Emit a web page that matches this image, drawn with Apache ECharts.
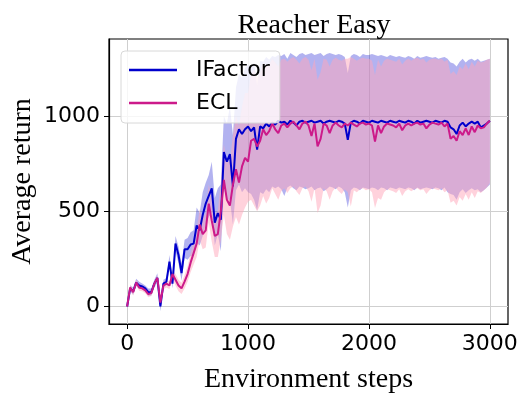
<!DOCTYPE html>
<html lang="en">
<head>
    <meta charset="UTF-8">
    <title>Reacher Easy</title>
    <script src='https://cdn.jsdelivr.net/npm/echarts@6/dist/echarts.min.js'></script>
</head>
<body style="margin: 0; background: #fff">
<div id="chart" style="width: 531px;height: 399px"></div>

<script>
    // environment steps, one sample every 25 steps (0 .. 3000)
    let steps = [];
    for (let s = 0; s <= 3000; s += 25) steps.push(s);

    // IFactor: mean return and shaded band (upper / lower)
    let ifMean = [
        0, 95, 80, 125, 110, 105, 95, 75, 75, 120,
        150, 0, 120, 130, 235, 120, 330, 270, 175, 300,
        300, 325, 330, 425, 400, 480, 540, 580, 620, 440,
        490, 455, 810, 760, 800, 630, 880, 930, 905, 930,
        945, 920, 940, 823, 945, 935, 960, 945, 965, 955,
        975, 965, 970, 955, 975, 965, 950, 970, 975, 965,
        970, 975, 965, 970, 975, 960, 970, 975, 970, 965,
        975, 970, 960, 875, 965, 975, 970, 960, 975, 970,
        965, 975, 970, 965, 975, 970, 965, 975, 970, 965,
        975, 970, 965, 975, 970, 960, 975, 965, 970, 975,
        970, 965, 975, 970, 965, 975, 970, 940, 930, 905,
        950, 965, 945, 960, 970, 960, 970, 940, 950, 960,
        975
    ];
    let ifHi = [
        0, 110, 100, 145, 130, 120, 110, 95, 95, 140,
        175, 20, 140, 150, 270, 150, 370, 315, 225, 350,
        360, 390, 400, 520, 490, 600, 650, 690, 760, 570,
        620, 640, 1000, 960, 1050, 900, 1150, 1220, 1200, 1250,
        1270, 1250, 1280, 1160, 1290, 1285, 1310, 1295, 1315, 1310,
        1320, 1315, 1325, 1300, 1330, 1320, 1310, 1325, 1330, 1320,
        1325, 1330, 1320, 1325, 1330, 1315, 1325, 1330, 1325, 1320,
        1325, 1320, 1310, 1225, 1315, 1325, 1320, 1310, 1325, 1320,
        1320, 1325, 1320, 1315, 1320, 1315, 1310, 1320, 1315, 1310,
        1315, 1310, 1305, 1315, 1310, 1300, 1315, 1305, 1310, 1315,
        1310, 1305, 1310, 1300, 1305, 1310, 1300, 1280, 1275, 1260,
        1285, 1300, 1280, 1295, 1300, 1290, 1300, 1285, 1290, 1295,
        1300
    ];
    let ifLo = [
        0, 80, 62, 108, 92, 90, 80, 55, 58, 100,
        125, -25, 100, 110, 200, 95, 290, 225, 135, 255,
        245, 265, 265, 335, 320, 370, 430, 470, 490, 320,
        380, 290, 620, 560, 560, 430, 610, 640, 600, 620,
        600, 590, 560, 505, 600, 590, 615, 600, 630, 620,
        630, 615, 580, 625, 635, 620, 610, 630, 625, 615,
        620, 630, 610, 620, 625, 605, 615, 630, 625, 615,
        630, 620, 600, 520, 610, 625, 620, 610, 625, 620,
        615, 625, 620, 610, 625, 620, 610, 625, 620, 615,
        625, 620, 615, 625, 620, 610, 625, 615, 620, 625,
        620, 615, 625, 620, 610, 625, 600, 590, 585, 560,
        600, 615, 595, 610, 620, 610, 615, 600, 610, 625,
        640
    ];

    // ECL: mean return and shaded band (upper / lower)
    let eclMean = [
        0, 100, 75, 125, 100, 95, 85, 65, 70, 120,
        150, 20, 110, 120, 110, 170, 140, 110, 95, 130,
        170, 230, 280, 330, 430, 380, 400, 540, 450, 370,
        380, 500, 665, 560, 530, 640, 720, 650, 735, 780,
        760, 870, 880, 840, 870, 930, 900, 920, 960, 930,
        910, 950, 960, 940, 960, 970, 950, 930, 960, 970,
        950, 895, 960, 840, 880, 960, 950, 910, 950, 965,
        950, 940, 960, 950, 965, 955, 945, 960, 965, 955,
        960, 950, 865, 950, 910, 945, 960, 955, 950, 940,
        960, 925, 950, 960, 950, 960, 965, 955, 960, 935,
        955, 965, 960, 955, 965, 945, 960, 880, 895, 870,
        920, 900, 935, 900, 945, 915, 950, 935, 940, 960,
        975
    ];
    let eclHi = [
        0, 115, 92, 140, 118, 110, 100, 82, 85, 135,
        165, 40, 130, 140, 130, 195, 170, 140, 125, 165,
        210, 280, 340, 400, 510, 460, 490, 640, 560, 480,
        500, 650, 850, 760, 760, 900, 1000, 950, 1050, 1120,
        1120, 1220, 1240, 1200, 1230, 1280, 1260, 1270, 1300, 1280,
        1260, 1295, 1300, 1285, 1300, 1310, 1295, 1275, 1300, 1310,
        1295, 1240, 1300, 1190, 1230, 1300, 1295, 1260, 1295, 1305,
        1295, 1290, 1300, 1300, 1310, 1300, 1290, 1300, 1305, 1300,
        1300, 1290, 1215, 1295, 1260, 1290, 1300, 1295, 1290, 1285,
        1300, 1270, 1290, 1300, 1290, 1300, 1305, 1295, 1300, 1280,
        1295, 1300, 1300, 1295, 1300, 1285, 1295, 1220, 1235, 1215,
        1260, 1245, 1275, 1245, 1285, 1260, 1290, 1280, 1285, 1295,
        1300
    ];
    let eclLo = [
        0, 85, 58, 110, 82, 80, 70, 48, 55, 105,
        135, 0, 90, 100, 90, 145, 110, 80, 65, 95,
        130, 180, 220, 260, 350, 300, 310, 440, 340, 260,
        260, 350, 480, 380, 350, 420, 470, 430, 480, 520,
        550, 560, 530, 500, 530, 580, 540, 570, 620, 590,
        560, 605, 620, 595, 620, 630, 605, 585, 620, 630,
        605, 550, 620, 490, 530, 620, 605, 560, 605, 625,
        605, 590, 615, 600, 525, 610, 600, 615, 620, 610,
        615, 600, 517, 570, 560, 600, 615, 610, 605, 595,
        615, 580, 605, 615, 605, 615, 620, 610, 615, 590,
        610, 620, 615, 610, 620, 600, 610, 544, 555, 530,
        575, 555, 590, 560, 600, 570, 605, 595, 610, 625,
        648
    ];

    let xTicks = [0, 1000, 2000, 3000];
    let yTicks = [0, 500, 1000];

    function pairs(vals) {
        return vals.map((v, i) => [steps[i], v]);
    }
    function rows(hi, lo) {
        return hi.map((v, i) => [steps[i], v, lo[i]]);
    }

    let serif = 'Liberation Serif';
    let sans = 'DejaVu Sans';

    // shaded band as one polygon: upper edge forward, lower edge back
    function band(name, hi, lo, color) {
        return {
            name: name, type: 'custom', silent: true,
            encode: { x: 0, y: [1, 2] },
            data: rows(hi, lo),
            renderItem: function (params, api) {
                if (params.dataIndex !== 0) return null;
                let top = [], bottom = [];
                for (let i = 0; i < hi.length; i++) {
                    top.push(api.coord([steps[i], hi[i]]));
                    bottom.push(api.coord([steps[i], lo[i]]));
                }
                return {
                    type: 'polygon',
                    shape: { points: top.concat(bottom.reverse()) },
                    style: { fill: color }
                };
            }
        };
    }

    let chart = echarts.init(document.getElementById('chart'));
    chart.setOption({
        animation: false,
        title: {
            text: 'Reacher Easy',
            left: 309, top: 7, textAlign: 'center',
            textStyle: { fontFamily: serif, fontSize: 28, fontWeight: 'normal', color: '#000' }
        },
        legend: {
            data: [
                { name: 'IFactor', icon: 'rect' },
                { name: 'ECL', icon: 'rect' }
            ],
            orient: 'vertical',
            left: 121, top: 51,
            itemWidth: 48, itemHeight: 2.5, itemGap: 11,
            padding: [8, 10, 9, 8],
            backgroundColor: 'rgba(255,255,255,0.8)',
            borderColor: '#d8d8d8', borderWidth: 1, borderRadius: 4,
            textStyle: { fontFamily: sans, fontSize: 22, color: '#000', padding: [0, 0, 0, 14], lineHeight: 22 }
        },
        grid: {
            left: 109, right: 23, top: 39, bottom: 75,
            containLabel: false, outerBoundsMode: 'none',
            show: true, borderColor: '#000', borderWidth: 1.2
        },
        xAxis: {
            type: 'value', min: -150, max: 3150,
            name: 'Environment steps', nameLocation: 'middle', nameGap: 42,
            nameMoveOverlap: false,
            nameTextStyle: { fontFamily: serif, fontSize: 28, color: '#000' },
            axisLine: { onZero: false, lineStyle: { color: '#000', width: 1.2 } },
            axisTick: { customValues: xTicks, length: 5, lineStyle: { color: '#000' } },
            axisLabel: {
                customValues: xTicks, fontFamily: sans, fontSize: 22, color: '#000', margin: 9,
                formatter: v => String(v)
            },
            splitLine: { show: true, lineStyle: { color: '#cfcfcf', width: 1 } }
        },
        yAxis: {
            type: 'value', min: -92, max: 1404,
            name: 'Average return', nameLocation: 'middle', nameGap: 72,
            nameMoveOverlap: false,
            nameTextStyle: { fontFamily: serif, fontSize: 28, color: '#000' },
            axisLine: { show: true, onZero: false, lineStyle: { color: '#000', width: 1.2 } },
            axisTick: { show: true, customValues: yTicks, length: 5, lineStyle: { color: '#000' } },
            axisLabel: {
                customValues: yTicks, fontFamily: sans, fontSize: 22, color: '#000', margin: 9,
                formatter: v => String(v)
            },
            splitLine: { show: true, lineStyle: { color: '#cfcfcf', width: 1 } }
        },
        series: [
            band('IFactor band', ifHi, ifLo, 'rgba(0,0,205,0.3)'),
            band('ECL band', eclHi, eclLo, 'rgba(255,165,185,0.5)'),
            {
                name: 'IFactor', type: 'line', symbol: 'none', color: '#0000cc',
                lineStyle: { width: 2 }, data: pairs(ifMean)
            },
            {
                name: 'ECL', type: 'line', symbol: 'none', color: '#cc1a8a',
                lineStyle: { width: 2 }, data: pairs(eclMean)
            }
        ]
    });
</script>
</body>
</html>
